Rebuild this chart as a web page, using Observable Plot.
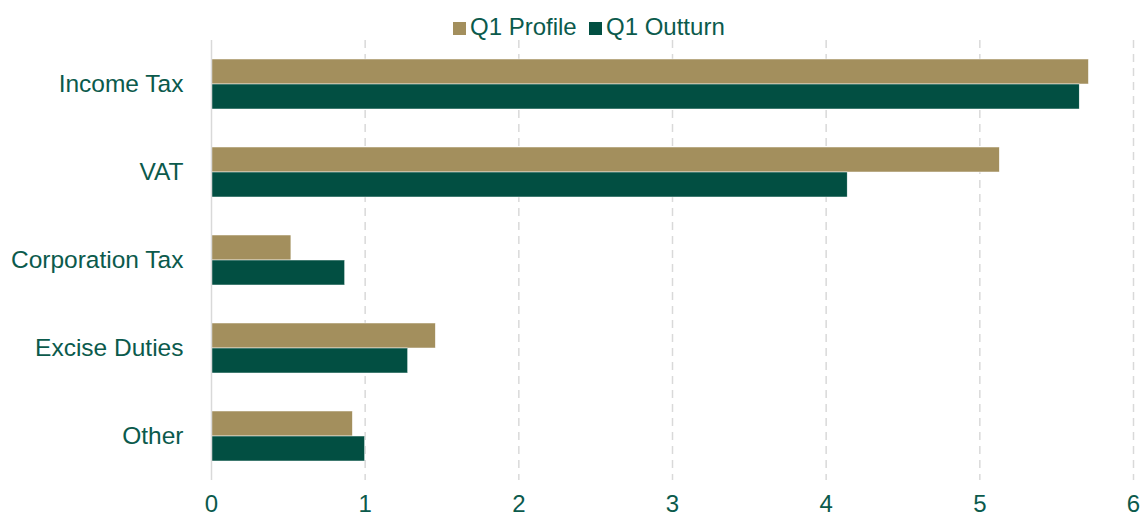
<!DOCTYPE html>
<html>
<head>
<meta charset="utf-8">
<script src="https://cdn.jsdelivr.net/npm/d3@7"></script>
<script src="https://cdn.jsdelivr.net/npm/@observablehq/plot@0.6"></script>
<style>
  html, body { margin: 0; padding: 0; background: #fff; overflow: hidden; }
  #wrap { position: relative; width: 1140px; height: 517px; font-family: "Liberation Sans", Arial, sans-serif; }
  #legend { position: absolute; top: 0; left: 0; width: 1140px; height: 40px; font-size: 24px; color: #0B5A4C; }
  .sw { position: absolute; width: 13px; height: 13px; top: 22px; }
  .lt { position: absolute; top: 15px; line-height: 24px; white-space: nowrap; }
</style>
</head>
<body>
<div id="wrap">
  <div id="legend"></div>
  <div id="chart"></div>
</div>
<script>
const categories = ["Income Tax", "VAT", "Corporation Tax", "Excise Duties", "Other"];
const profile = [5.71, 5.13, 0.52, 1.46, 0.92];
const outturn = [5.65, 4.14, 0.87, 1.28, 1.00];
const xTicks = [0, 1, 2, 3, 4, 5, 6];
const seriesNames = ["Q1 Profile", "Q1 Outturn"];
const seriesColors = ["#A38F5D", "#024F42"];
const textColor = "#0B5A4C";
const gridColor = "#D9D9D9";

const profileData = categories.map((c, i) => ({category: c, value: profile[i]}));
const outturnData = categories.map((c, i) => ({category: c, value: outturn[i]}));

// legend (HTML, above the plot area)
const legend = document.getElementById("legend");
const swLeft = [453, 589];
const txtLeft = [470, 606];
seriesNames.forEach((n, i) => {
  const sw = document.createElement("div");
  sw.className = "sw";
  sw.style.left = swLeft[i] + "px";
  sw.style.background = seriesColors[i];
  const t = document.createElement("span");
  t.className = "lt";
  t.style.left = txtLeft[i] + "px";
  t.textContent = n;
  legend.appendChild(sw);
  legend.appendChild(t);
});

const chart = Plot.plot({
  width: 1140,
  height: 517,
  marginTop: 40,
  marginBottom: 37,
  marginLeft: 211,
  marginRight: 7,
  style: {fontFamily: "'Liberation Sans', Arial, sans-serif", fontSize: "24px", color: textColor, background: "#fff"},
  x: {domain: [0, 6], ticks: xTicks, tickSize: 0, tickPadding: 14, label: null, tickFormat: d => String(d)},
  y: {domain: categories, padding: 0, tickSize: 0, tickPadding: 28, label: null},
  marks: [
    Plot.ruleX(xTicks.filter(d => d > 0), {stroke: gridColor, strokeWidth: 1.5, strokeDasharray: "8,6"}),
    Plot.barX(profileData, {x: "value", y: "category", fill: seriesColors[0], insetTop: 19, insetBottom: 44, stroke: "#fff", strokeWidth: 0.5}),
    Plot.barX(outturnData, {x: "value", y: "category", fill: seriesColors[1], insetTop: 44, insetBottom: 19, stroke: "#fff", strokeWidth: 0.5}),
    Plot.ruleX([0], {stroke: gridColor, strokeWidth: 1.5}),
    Plot.ruleY([0], {x1: 0, x2: 6, stroke: gridColor, strokeWidth: 1.5, frameAnchor: "bottom"}),
    Plot.axisX({ticks: xTicks, tickSize: 0, tickPadding: 14, fill: textColor, tickFormat: d => String(d)}),
    Plot.axisY({tickSize: 0, tickPadding: 28, fill: textColor, fontSize: 24.5})
  ]
});
document.getElementById("chart").appendChild(chart);
</script>
</body>
</html>
